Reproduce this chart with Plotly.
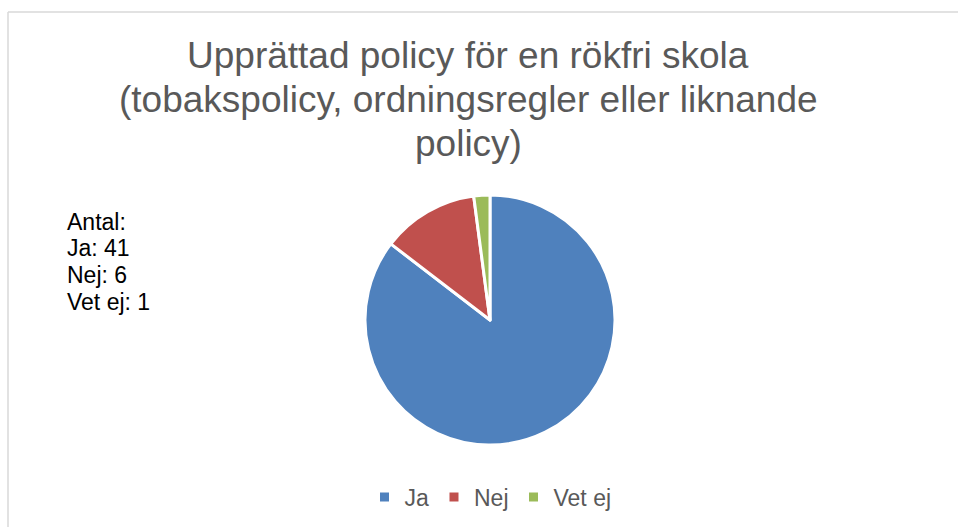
import plotly.graph_objects as go

categories = ["Ja", "Nej", "Vet ej"]
values = [41, 6, 1]
colors = ["#4F81BD", "#C0504D", "#9BBB59"]
title_lines = ["Upprättad policy för en rökfri skola",
               "(tobakspolicy, ordningsregler eller liknande",
               "policy)"]

W, H = 958, 527
FONT = "Liberation Sans, Arial"

fig = go.Figure(go.Pie(
    labels=categories, values=values, sort=False, direction="clockwise",
    rotation=0, marker=dict(colors=colors, line=dict(color="white", width=3)),
    textinfo="none", hoverinfo="label+value",
    domain=dict(x=[365 / W, 615 / W], y=[1 - 446 / H, 1 - 194 / H]),
))

annotations = []
for line, yc in zip(title_lines, [56, 100, 144]):
    annotations.append(dict(text=line, x=468 / W, y=1 - yc / H, xref="paper", yref="paper",
                            showarrow=False, xanchor="center", yanchor="middle",
                            font=dict(family=FONT, size=37, color="#595959")))

note_lines = ["Antal:"] + [f"{c}: {v}" for c, v in zip(categories, values)]
for line, yc in zip(note_lines, [222, 248, 275, 302]):
    annotations.append(dict(text=line, x=65 / W, y=1 - yc / H, xref="paper", yref="paper",
                            showarrow=False, xanchor="left", yanchor="middle", align="left",
                            font=dict(family=FONT, size=23, color="black")))

fig.update_layout(
    width=W, height=H, margin=dict(l=0, r=0, t=0, b=0),
    paper_bgcolor="white", plot_bgcolor="white",
    showlegend=True,
    legend=dict(orientation="h", x=0.512, xanchor="center", y=1 - 497 / H, yanchor="middle",
                font=dict(family=FONT, size=23, color="#595959"),
                itemwidth=30, traceorder="normal"),
    annotations=annotations,
    shapes=[
        dict(type="line", xref="paper", yref="paper", x0=8 / W, x1=1, y0=1 - 12 / H, y1=1 - 12 / H,
             line=dict(color="#D9D9D9", width=1.5)),
        dict(type="line", xref="paper", yref="paper", x0=8 / W, x1=8 / W, y0=0, y1=1 - 12 / H,
             line=dict(color="#D9D9D9", width=1.5)),
    ],
)

fig.write_html("out.html", config={"displayModeBar": False},
               post_script="document.body.style.margin='0';document.body.style.overflow='hidden';")
